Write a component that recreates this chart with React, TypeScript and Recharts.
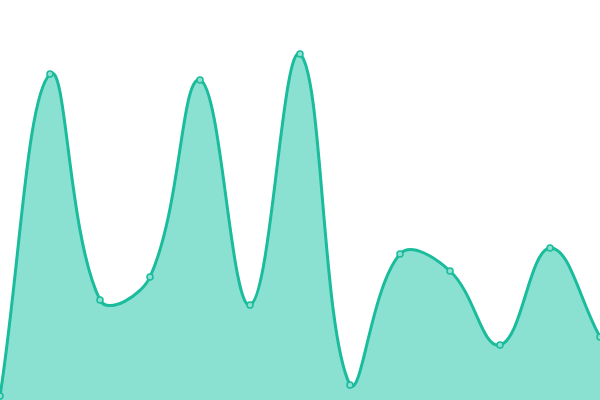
import React from "react";
import { AreaChart, Area, XAxis, YAxis } from "recharts";

const categories = ["0","1","2","3","4","5","6","7","8","9","10","11","12"];
const values = [1, 81.5, 25, 30.75, 80, 23.75, 86.5, 3.75, 36.5, 32.25, 13.75, 38, 15.75];

const data = categories.map((c, i) => ({ name: c, value: values[i] }));

const TENSION = 0.4;
const MIN_Y = 0;
const MAX_Y = 400;

class SplineCurve {
  _context: any;
  _line: number = NaN;
  _pts: number[][] = [];
  constructor(ctx: any) {
    this._context = ctx;
  }
  areaStart() {
    this._line = 0;
  }
  areaEnd() {
    this._line = NaN;
  }
  lineStart() {
    this._pts = [];
  }
  point(x: number, y: number) {
    this._pts.push([+x, +y]);
  }
  lineEnd() {
    const pts = this._pts;
    const n = pts.length;
    const ctx = this._context;
    if (n > 0) {
      if (this._line) ctx.lineTo(pts[0][0], pts[0][1]);
      else ctx.moveTo(pts[0][0], pts[0][1]);
      const cps: { px: number; py: number; nx: number; ny: number }[] = [];
      for (let i = 0; i < n; i++) {
        const cur = pts[i];
        const prev = i > 0 ? pts[i - 1] : cur;
        const next = i < n - 1 ? pts[i + 1] : cur;
        const d01 = Math.hypot(cur[0] - prev[0], cur[1] - prev[1]);
        const d12 = Math.hypot(next[0] - cur[0], next[1] - cur[1]);
        let s01 = d01 / (d01 + d12);
        let s12 = d12 / (d01 + d12);
        if (isNaN(s01)) s01 = 0;
        if (isNaN(s12)) s12 = 0;
        const fa = TENSION * s01;
        const fb = TENSION * s12;
        const clampY = (v: number) => Math.max(MIN_Y, Math.min(MAX_Y, v));
        cps.push({
          px: cur[0] - fa * (next[0] - prev[0]),
          py: clampY(cur[1] - fa * (next[1] - prev[1])),
          nx: cur[0] + fb * (next[0] - prev[0]),
          ny: clampY(cur[1] + fb * (next[1] - prev[1])),
        });
      }
      for (let i = 1; i < n; i++) {
        ctx.bezierCurveTo(cps[i - 1].nx, cps[i - 1].ny, cps[i].px, cps[i].py, pts[i][0], pts[i][1]);
      }
    }
    if (this._line || (this._line !== 0 && n === 1)) ctx.closePath();
    this._line = 1 - this._line;
  }
}

const splineFactory: any = (ctx: any) => new SplineCurve(ctx);

export default function App() {
  return (
    <div style={{ position: "fixed", left: 0, top: 0, width: 600, height: 400, background: "#fff" }}>
      <AreaChart width={600} height={400} data={data} margin={{ top: 0, right: 0, bottom: 0, left: 0 }}>
        <XAxis dataKey="name" hide />
        <YAxis domain={[0, 100]} hide />
        <Area
          type={splineFactory}
          dataKey="value"
          stroke="#1abc9c"
          strokeWidth={3}
          fill="#8ae0d1"
          fillOpacity={1}
          dot={{ r: 3, fill: "#8ae0d1", stroke: "#1abc9c", strokeWidth: 1.5 }}
          activeDot={false}
          isAnimationActive={false}
        />
      </AreaChart>
    </div>
  );
}
